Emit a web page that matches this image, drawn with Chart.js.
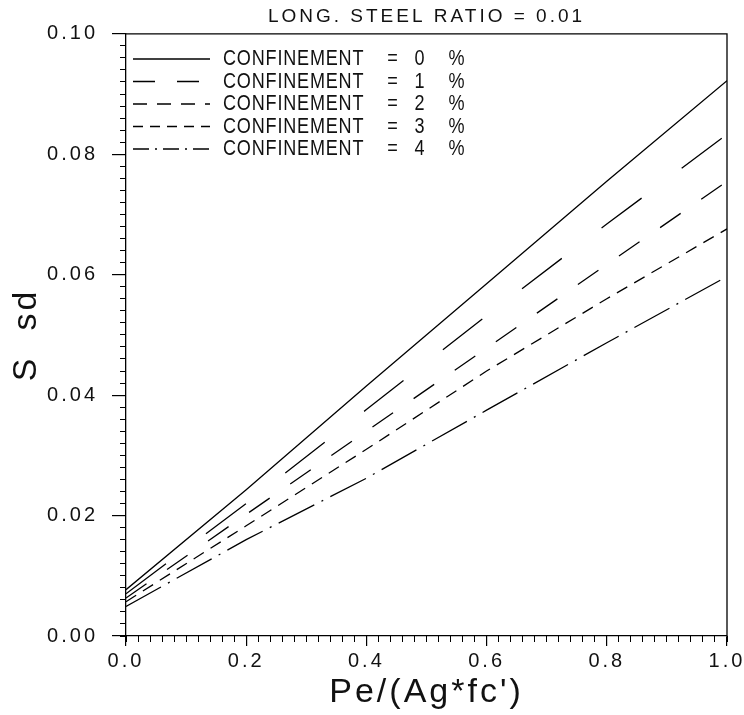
<!DOCTYPE html>
<html>
<head>
<meta charset="utf-8">
<script src="https://cdn.jsdelivr.net/npm/chart.js@4"></script>
<style>
  body { margin: 0; background: #fff; }
</style>
</head>
<body>
<canvas id="grafico" width="744" height="715"></canvas>
<script>
"use strict";
// valores
const xValues = [0, 0.2, 0.4, 0.6, 0.8, 1.0];
const conf0 = [0.0077, 0.0243, 0.0415, 0.0585, 0.0755, 0.0922];
const conf1 = [0.0070, 0.0220, 0.0376, 0.0532, 0.0684, 0.0833];
const conf2 = [0.0063, 0.0202, 0.0340, 0.0478, 0.0617, 0.0755];
const conf3 = [0.0057, 0.0183, 0.0310, 0.0440, 0.0560, 0.0676];
const conf4 = [0.0049, 0.0160, 0.0262, 0.0375, 0.0487, 0.0597];
const confinements = ['0', '1', '2', '3', '4'];
const titleText = 'LONG. STEEL RATIO = 0.01';
const xTitle = "Pe/(Ag*fc')";
const yTitle = 'S  sd';

const series = [conf0, conf1, conf2, conf3, conf4];
const dashes = [[], [50, 50], [25, 25], [12, 8], [40, 8, 2, 8]];
const legendDashes = [[], [22, 22], [14, 10], [10, 7], [16, 6, 2, 6]];
const fonte = '"Liberation Sans", Arial, sans-serif';

const datasets = series.map((vals, i) => ({
    label: `CONFINEMENT = ${confinements[i]} %`,
    data: xValues.map((x, j) => ({ x: x, y: vals[j] })),
    borderColor: '#000',
    borderWidth: 1.3,
    borderDash: dashes[i],
    pointRadius: 0,
    tension: 0,
    fill: false
}));

const fundoBranco = {
    id: 'fundoBranco',
    beforeDraw(chart) {
        const ctx = chart.ctx;
        ctx.save();
        ctx.fillStyle = '#fff';
        ctx.fillRect(0, 0, chart.width, chart.height);
        ctx.restore();
        // espaçamento largo como no original
        ctx.letterSpacing = '3px';
    }
};

const moldura = {
    id: 'moldura',
    afterDatasetsDraw(chart) {
        const { ctx, chartArea: a } = chart;
        ctx.save();
        ctx.strokeStyle = '#000';
        ctx.lineWidth = 1.3;
        ctx.beginPath();
        ctx.moveTo(a.left, a.top);
        ctx.lineTo(a.right, a.top);
        ctx.lineTo(a.right, a.bottom);
        ctx.stroke();
        ctx.restore();
    }
};

const legendaInterna = {
    id: 'legendaInterna',
    afterDraw(chart) {
        const ctx = chart.ctx;
        const colX = [223, 393, 420, 457];
        ctx.save();
        ctx.letterSpacing = '1px';
        ctx.font = '22px ' + fonte;
        ctx.fillStyle = '#111';
        ctx.textBaseline = 'middle';
        chart.data.datasets.forEach((ds, i) => {
            const y = 59 + i * 22.5;
            ctx.strokeStyle = '#000';
            ctx.lineWidth = 1.3;
            ctx.setLineDash(legendDashes[i]);
            ctx.beginPath();
            ctx.moveTo(133, y);
            ctx.lineTo(210, y);
            ctx.stroke();
            ctx.setLineDash([]);
            const parts = ds.label.split(' ');
            parts.forEach((p, k) => {
                ctx.save();
                ctx.translate(colX[k], y);
                ctx.scale(0.82, 1);
                ctx.textAlign = k === 0 ? 'left' : 'center';
                ctx.fillText(p, 0, 0);
                ctx.restore();
            });
        });
        ctx.restore();
    }
};

const tickFont = { family: fonte, size: 20 };

new Chart(document.getElementById('grafico'), {
    type: 'line',
    data: { datasets: datasets },
    plugins: [fundoBranco, moldura, legendaInterna],
    options: {
        responsive: false,
        animation: false,
        devicePixelRatio: 1,
        layout: { padding: { left: 0, right: 17, top: 0, bottom: 0 } },
        plugins: {
            legend: { display: false },
            tooltip: { enabled: false },
            title: {
                display: true,
                text: titleText,
                fullSize: false,
                color: '#111',
                font: { family: fonte, size: 19, weight: 'normal' },
                padding: { top: 5, bottom: 6 }
            }
        },
        scales: {
            x: {
                type: 'linear',
                position: 'bottom',
                weight: 1,
                min: 0,
                max: 1,
                afterFit(s) { s.height = 79; },
                ticks: {
                    stepSize: 0.2,
                    maxTicksLimit: 6,
                    padding: 3,
                    color: '#111',
                    font: tickFont,
                    maxRotation: 0,
                    callback: (v) => v.toFixed(1)
                },
                grid: { drawOnChartArea: false, tickLength: 10, color: '#000', lineWidth: 1.2 },
                border: { display: true, color: '#000', width: 1.3 },
                title: {
                    display: true,
                    text: xTitle,
                    color: '#111',
                    font: { family: fonte, size: 34 },
                    padding: { top: 0, bottom: 2 }
                }
            },
            xMinor: {
                type: 'linear',
                position: 'bottom',
                weight: 0,
                min: 0,
                max: 1,
                afterFit(s) { s.height = 0; },
                ticks: { display: false, stepSize: 0.02, maxTicksLimit: 51 },
                grid: { drawOnChartArea: false, tickLength: 6, color: '#000', lineWidth: 1 },
                border: { display: false }
            },
            y: {
                type: 'linear',
                position: 'left',
                weight: 1,
                min: 0,
                max: 0.1,
                afterFit(s) { s.width = 126; },
                ticks: {
                    stepSize: 0.02,
                    maxTicksLimit: 6,
                    padding: 14,
                    color: '#111',
                    font: tickFont,
                    callback: (v) => v.toFixed(2)
                },
                grid: { drawOnChartArea: false, tickLength: 14, color: '#000', lineWidth: 1.2 },
                border: { display: true, color: '#000', width: 1.3 },
                title: {
                    display: true,
                    text: yTitle,
                    color: '#111',
                    font: { family: fonte, size: 34 },
                    padding: { top: 6, bottom: 0 }
                }
            },
            yMinor: {
                type: 'linear',
                position: 'left',
                weight: 0,
                min: 0,
                max: 0.1,
                afterFit(s) { s.width = 0; },
                ticks: { display: false, stepSize: 0.002, maxTicksLimit: 51 },
                grid: { drawOnChartArea: false, tickLength: 6, color: '#000', lineWidth: 1 },
                border: { display: false }
            }
        }
    }
});
</script>
</body>
</html>
